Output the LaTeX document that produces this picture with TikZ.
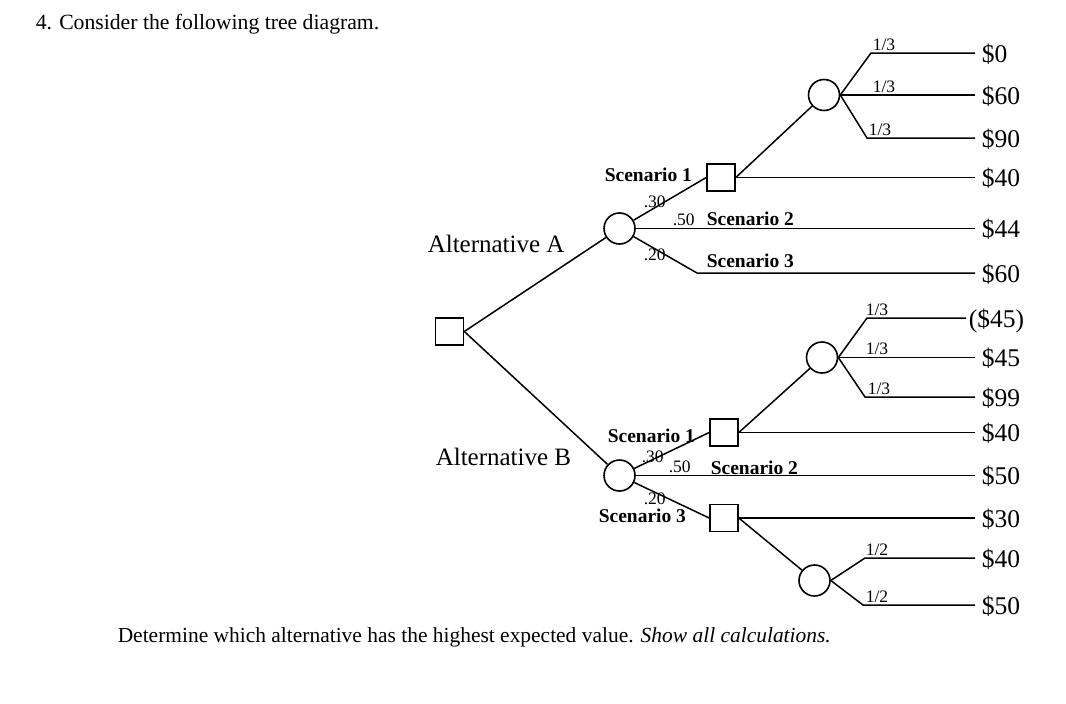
\documentclass[tikz,border=0pt]{standalone}
\usepackage{fontspec}
\setmainfont{Liberation Serif}
\begin{document}
\begin{tikzpicture}[x=1pt,y=-1pt, line width=1.5pt,
 dec/.style={draw, rectangle, minimum width=28pt, minimum height=27pt, inner sep=0pt, line width=1.6pt},
 chn/.style={draw, circle, minimum size=31pt, inner sep=0pt, line width=1.6pt},
 pay/.style={anchor=west, inner xsep=6pt, inner ysep=0pt, font=\fontsize{25.5}{30}\selectfont, text height=18pt, text depth=0pt},
 prob/.style={anchor=base west, inner sep=0pt, font=\fontsize{17.5}{20}\selectfont},
 scen/.style={anchor=base west, inner sep=0pt, font=\fontsize{19.5}{22}\selectfont\bfseries},
 alt/.style={anchor=base west, inner sep=0pt, font=\fontsize{25}{30}\selectfont},
]
\useasboundingbox (0,0) rectangle (1066,704);

\node[anchor=base west, inner sep=0pt, font=\fontsize{21.7}{26}\selectfont] (title) at (35,29) {4. Consider the following tree diagram.};

% decision / chance nodes
\node[dec] (D0) at (449.5,331.5) {};
\node[chn] (CA) at (619.5,228.5) {};
\node[chn] (CB) at (619.5,475.5) {};
\node[dec] (SA1) at (721,177.5) {};
\node[chn] (CA1) at (824,95) {};
\node[dec] (SB1) at (724,432.5) {};
\node[dec] (SB3) at (724,518) {};
\node[chn] (CB1) at (822,357.5) {};
\node[chn] (CB3) at (814.5,580.5) {};

% payoffs
\node[pay] (pA1) at (975,53) {\$0};
\node[pay] (pA2) at (975,95) {\$60};
\node[pay] (pA3) at (975,138) {\$90};
\node[pay] (pA4) at (975,177.5) {\$40};
\node[pay] (pA5) at (975,228.5) {\$44};
\node[pay] (pA6) at (975,273) {\$60};
\node[pay, inner xsep=2pt] (pB1) at (966,318) {(\$45)};
\node[pay] (pB2) at (975,357.5) {\$45};
\node[pay] (pB3) at (975,397) {\$99};
\node[pay] (pB4) at (975,432.5) {\$40};
\node[pay] (pB5) at (975,475.5) {\$50};
\node[pay] (pB6) at (975,518) {\$30};
\node[pay] (pB7) at (975,558) {\$40};
\node[pay] (pB8) at (975,605) {\$50};

% kinks
\coordinate (kA3) at (697,273);
\coordinate (kA1) at (871,53);
\coordinate (kA2) at (867,138);
\coordinate (kB1) at (867,318);
\coordinate (kB2) at (865,397);
\coordinate (kB3) at (865,558);
\coordinate (kB4) at (863,605);

% connectors A
\draw (D0.east) -- (CA);
\draw (D0.east) -- (CB);
\draw (CA) -- (SA1.west);
\draw (CA.east) -- (pA5.west);
\draw (CA) -- (kA3) -- (pA6.west);
\draw (SA1.east) -- (pA4.west);
\draw (SA1.east) -- (CA1);
\draw (CA1.east) -- (kA1) -- (pA1.west);
\draw (CA1.east) -- (pA2.west);
\draw (CA1.east) -- (kA2) -- (pA3.west);

% connectors B
\draw (CB) -- (SB1.west);
\draw (CB.east) -- (pB5.west);
\draw (CB) -- (SB3.west);
\draw (SB1.east) -- (pB4.west);
\draw (SB1.east) -- (CB1);
\draw (CB1.east) -- (kB1) -- (pB1.west);
\draw (CB1.east) -- (pB2.west);
\draw (CB1.east) -- (kB2) -- (pB3.west);
\draw (SB3.east) -- (pB6.west);
\draw (SB3.east) -- (CB3);
\draw (CB3.east) -- (kB3) -- (pB7.west);
\draw (CB3.east) -- (kB4) -- (pB8.west);

% labels
\node[alt] (altA) at (427,252) {Alternative A};
\node[alt] (altB) at (435,465) {Alternative B};

\node[scen] (sA1) at (604,181) {Scenario 1};
\node[scen] (sA2) at (706,225) {Scenario 2};
\node[scen] (sA3) at (706,267) {Scenario 3};
\node[prob] (prA1) at (643,207) {.30};
\node[prob] (prA2) at (672,225) {.50};
\node[prob] (prA3) at (643,260) {.20};

\node[scen] (sB1) at (607,442) {Scenario 1};
\node[scen] (sB2) at (710,474) {Scenario 2};
\node[scen] (sB3) at (598,522) {Scenario 3};
\node[prob] (prB1) at (641,462) {.30};
\node[prob] (prB2) at (668,472) {.50};
\node[prob] (prB3) at (643,504) {.20};

\node[prob] (qA1) at (872,50) {1/3};
\node[prob] (qA2) at (872,92) {1/3};
\node[prob] (qA3) at (868,135) {1/3};
\node[prob] (qB1) at (865,315) {1/3};
\node[prob] (qB2) at (865,354) {1/3};
\node[prob] (qB3) at (867,394) {1/3};
\node[prob] (qB4) at (865,555) {1/2};
\node[prob] (qB5) at (865,602) {1/2};

\node[anchor=base west, inner sep=0pt] (question) at (117,642) {\resizebox{713pt}{!}{\fontsize{20}{24}\selectfont Determine which alternative has the highest expected value. \textit{Show all calculations.}}};
\end{tikzpicture}
\end{document}
